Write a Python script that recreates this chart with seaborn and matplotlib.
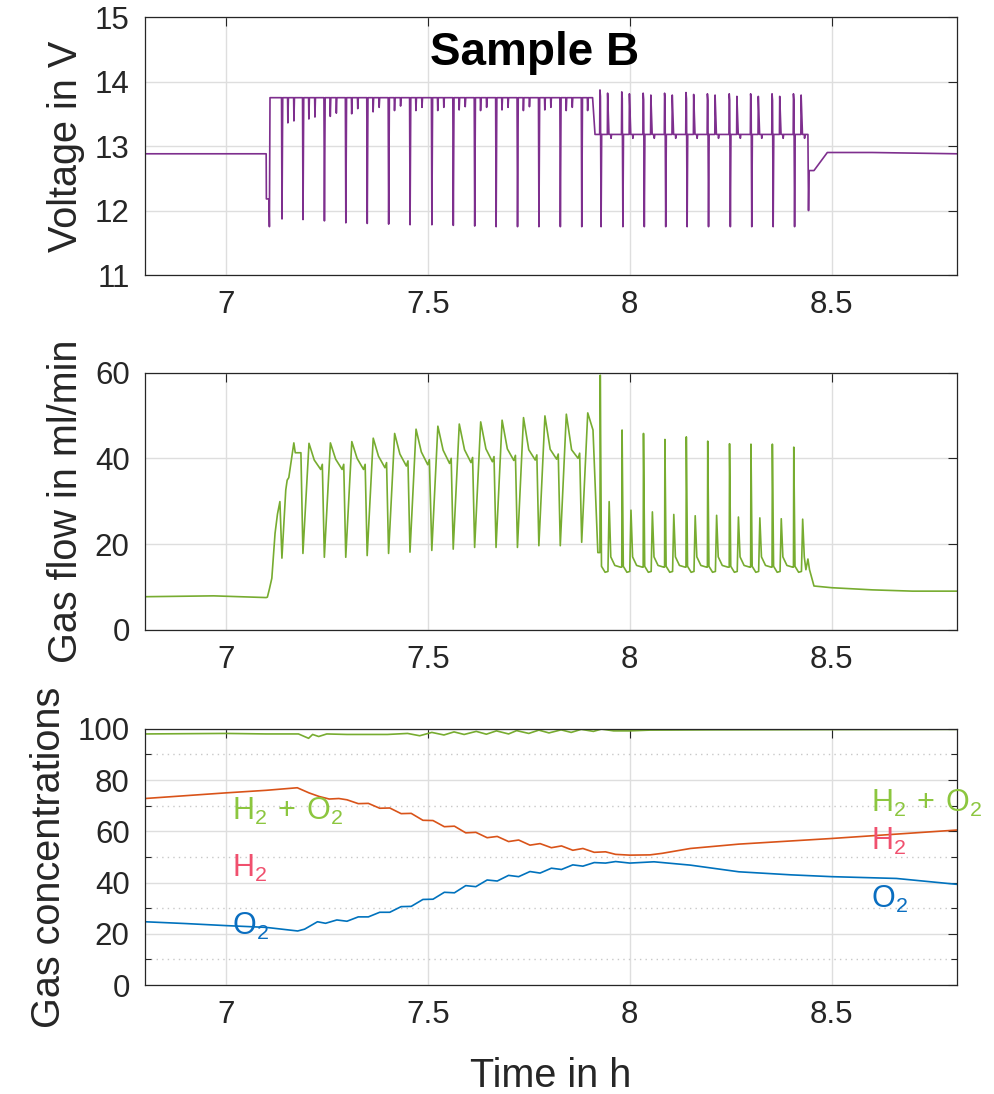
import matplotlib
matplotlib.use("Agg")
import matplotlib.pyplot as plt
import seaborn as sns
from matplotlib.ticker import MultipleLocator, FixedLocator

# ---------------- data ----------------
# time axis (h)
x_ticks = [7, 7.5, 8, 8.5]
x_tick_labels = ["7", "7.5", "8", "8.5"]

# stack voltage (V)
v_idle_before = [12.88, 12.88]
v_idle_times = [6.80, 7.100]
v_start_t = [7.1005, 7.107, 7.108, 7.1095]
v_start_v = [12.18, 12.18, 11.75, 13.75]
v_level_1 = 13.75
v_level_2 = 13.18
# pulse instants shared by voltage and gas-flow traces
pulse_t_1 = [7.138, 7.190, 7.243, 7.296, 7.349, 7.402, 7.455, 7.509,
             7.562, 7.615, 7.668, 7.721, 7.774, 7.827, 7.880]
pulse_t_2 = [7.927, 7.981, 8.034, 8.087, 8.140, 8.193, 8.247, 8.300,
             8.353, 8.406]
v_min_1 = [11.87, 11.86, 11.84, 11.81, 11.80, 11.79, 11.78, 11.78,
           11.77, 11.76, 11.75, 11.75, 11.75, 11.75, 11.75]
v_dip_a = [13.36, 13.42, 13.46, 13.50, 13.53, 13.55, 13.55, 13.55,
           13.56, 13.55, 13.56, 13.55, 13.56, 13.55, 13.55]
v_dip_b = [13.39, 13.45, 13.51, 13.58, 13.60, 13.62, 13.60, 13.60,
           13.61, 13.60, 13.60, 13.61, 13.60, 13.60, 13.60]
v_step_t = [7.908, 7.914]
v_min_2 = [11.75, 11.75, 11.75, 11.75, 11.75, 11.75, 11.75, 11.75, 11.75, 11.75]
v_spike_2 = [13.87, 13.84, 13.82, 13.82, 13.83, 13.81, 13.81, 13.81, 13.81, 13.81]
v_spike_2b = [13.82, 13.81, 13.79, 13.79, 13.80, 13.79, 13.77, 13.77, 13.77, 13.79]
v_end_t = [8.441, 8.4425, 8.444, 8.456, 8.489, 8.60, 8.81]
v_end_v = [13.18, 12.00, 12.62, 12.62, 12.90, 12.90, 12.88]

# gas flow (ml/min)
g_pre_t = [6.80, 6.97, 7.100]
g_pre_v = [7.7, 7.9, 7.5]
g_ramp_t = [7.103, 7.108, 7.114, 7.122, 7.128, 7.134, 7.139, 7.1485,
            7.152, 7.156, 7.1685, 7.172, 7.186]
g_ramp_v = [7.6, 9.5, 12.0, 22.5, 27.0, 29.9, 16.7, 32.6,
            34.9, 35.5, 43.6, 41.3, 41.3]
g_dip_1 = [17.8, 16.9, 16.9, 17.3, 17.8, 18.1, 18.5, 18.8, 19.2, 19.2,
           19.2, 19.6, 19.6, 20.4]
g_peak_1 = [43.5, 43.6, 43.9, 44.7, 45.8, 46.8, 47.5, 48.0, 48.5, 48.9,
            49.5, 49.9, 50.3, 50.6]
g_mid_1 = [39.6, 39.8, 40.0, 40.5, 41.0, 41.5, 41.9, 42.0, 42.2, 42.2,
           42.0, 42.1, 42.0, 46.6]
g_tail_1 = [37.4, 37.4, 37.4, 37.8, 38.2, 38.5, 38.8, 39.0, 39.2, 39.5,
            39.6, 39.8, 40.0, 40.0]
g_switch_t = [7.921]
g_switch_v = [18.0]
g_spike_2 = [59.4, 46.6, 45.8, 44.4, 45.0, 44.0, 43.4, 43.3, 43.3, 42.6]
g_second_2 = [29.9, 27.9, 27.5, 26.9, 26.6, 26.7, 26.3, 26.1, 25.9, 25.8]
g_end_t = [8.436, 8.441, 8.445, 8.456, 8.50, 8.60, 8.70, 8.81]
g_end_v = [14.0, 16.5, 14.0, 10.2, 9.8, 9.3, 9.0, 9.0]

# gas concentrations (%)
o2_t = [6.80, 6.90, 7.00, 7.10, 7.178, 7.195, 7.227, 7.247, 7.275, 7.300,
        7.328, 7.353, 7.381, 7.406, 7.434, 7.459, 7.488, 7.513, 7.541, 7.566,
        7.594, 7.619, 7.647, 7.672, 7.700, 7.725, 7.753, 7.778, 7.806, 7.831,
        7.859, 7.884, 7.912, 7.940, 7.965, 8.00, 8.06, 8.15, 8.27, 8.40,
        8.50, 8.66, 8.81]
o2_v = [24.7, 24.0, 23.2, 22.5, 21.1, 21.8, 24.7, 24.1, 25.4, 24.9,
        26.6, 26.6, 28.4, 28.4, 30.6, 30.7, 33.4, 33.5, 36.2, 36.0,
        38.8, 38.4, 41.0, 40.6, 42.8, 42.3, 44.3, 43.7, 45.6, 45.1,
        46.9, 46.4, 47.8, 47.6, 48.2, 47.6, 48.1, 46.8, 44.2, 43.0,
        42.3, 41.6, 39.3]
h2_t = [6.80, 7.00, 7.10, 7.177, 7.206, 7.231, 7.256, 7.280, 7.300, 7.328,
        7.353, 7.381, 7.406, 7.434, 7.459, 7.488, 7.513, 7.541, 7.566, 7.594,
        7.619, 7.647, 7.672, 7.700, 7.725, 7.753, 7.778, 7.806, 7.831, 7.859,
        7.884, 7.912, 7.940, 7.965, 8.00, 8.05, 8.08, 8.15, 8.27, 8.50, 8.81]
h2_v = [72.8, 75.0, 76.0, 77.0, 75.0, 73.6, 72.6, 72.8, 72.3, 70.8,
        70.9, 69.0, 69.1, 66.9, 67.0, 64.3, 64.2, 61.8, 62.0, 59.4,
        59.6, 57.5, 58.0, 56.0, 56.6, 54.6, 55.2, 53.6, 54.3, 52.6,
        53.3, 51.8, 52.0, 51.0, 50.7, 50.8, 51.4, 53.3, 55.0, 57.2, 60.5]
sum_t = [6.80, 7.00, 7.10, 7.18, 7.205, 7.215, 7.23, 7.25, 7.30, 7.40,
         7.45, 7.48, 7.51, 7.54, 7.565, 7.59, 7.62, 7.645, 7.67, 7.70,
         7.72, 7.75, 7.775, 7.80, 7.83, 7.855, 7.88, 7.91, 7.93, 7.96,
         8.00, 8.05, 8.20, 8.50, 8.81]
sum_v = [98.0, 98.2, 98.0, 98.0, 96.3, 97.8, 97.0, 98.0, 97.8, 97.8,
         98.2, 97.3, 98.6, 97.6, 98.8, 97.8, 99.0, 97.9, 99.2, 98.0,
         99.3, 98.2, 99.5, 98.4, 99.6, 98.6, 99.8, 99.0, 99.9, 99.2,
         99.2, 99.5, 99.6, 99.7, 99.8]

# ---------------- assemble the stepped traces ----------------
def voltage_trace():
    t = list(v_idle_times) + list(v_start_t)
    v = list(v_idle_before) + list(v_start_v)
    for i, p in enumerate(pulse_t_1):
        t += [p, p + 0.0012, p + 0.003]
        v += [v_level_1, v_min_1[i], v_level_1]
        for off, d in ((0.015, v_dip_a[i]), (0.030, v_dip_b[i])):
            if p + off + 0.002 < v_step_t[0]:
                t += [p + off, p + off + 0.0007, p + off + 0.002]
                v += [v_level_1, d, v_level_1]
    t += v_step_t
    v += [v_level_1, v_level_2]
    for j, p in enumerate(pulse_t_2):
        t += [p - 0.0015, p - 0.0008, p + 0.0004, p + 0.002, p + 0.0035]
        v += [v_level_2, v_spike_2[j], v_spike_2[j] - 0.1, v_min_2[j], v_level_2]
        t += [p + 0.0175, p + 0.0182, p + 0.0215, p + 0.026, p + 0.0267, p + 0.028]
        v += [v_level_2, v_spike_2b[j], v_level_2, v_level_2, 13.12, v_level_2]
    t += v_end_t
    v += v_end_v
    return t, v


def gasflow_trace():
    t = list(g_pre_t) + list(g_ramp_t)
    v = list(g_pre_v) + list(g_ramp_v)
    for i, p in enumerate(pulse_t_1[1:]):
        pts = [(p + 0.001, g_dip_1[i]), (p + 0.016, g_peak_1[i]),
               (p + 0.029, g_mid_1[i]), (p + 0.045, g_tail_1[i]),
               (p + 0.049, g_tail_1[i] + 1.2)]
        for tt, vv in pts:
            if tt < g_switch_t[0] - 0.003:
                t.append(tt)
                v.append(vv)
    t += g_switch_t
    v += g_switch_v
    for j, p in enumerate(pulse_t_2):
        pts = [(p - 0.0008, v[-1]), (p, g_spike_2[j]), (p + 0.003, 14.8),
               (p + 0.012, 13.4), (p + 0.019, 13.6), (p + 0.022, g_second_2[j]),
               (p + 0.026, 17.0), (p + 0.036, 15.0), (p + 0.050, 14.6)]
        for tt, vv in pts:
            if tt < g_end_t[0] - 0.002:
                t.append(tt)
                v.append(vv)
    t += g_end_t
    v += g_end_v
    return t, v


volt_t, volt_v = voltage_trace()
flow_t, flow_v = gasflow_trace()

# ---------------- styling ----------------
sns.set_theme(style="white")
plt.rcParams["font.family"] = ["Liberation Sans", "DejaVu Sans"]
plt.rcParams["mathtext.default"] = "regular"

AX_COL = "#262626"
GRID_COL = "#dedede"
C_VOLT = "#7E2F8E"
C_FLOW = "#77AC30"
C_H2 = "#D95319"
C_O2 = "#0072BD"
LW = 1.2

fig = plt.figure(figsize=(9.95, 10.94), dpi=100)
left, width = 0.1457, 0.8161
ax1 = fig.add_axes([left, 0.7486, width, 0.2358])
ax2 = fig.add_axes([left, 0.4244, width, 0.2350])
ax3 = fig.add_axes([left, 0.0996, width, 0.2342])

for ax in (ax1, ax2, ax3):
    ax.set_xlim(6.8, 8.81)
    ax.xaxis.set_major_locator(FixedLocator(x_ticks))
    ax.set_xticklabels(x_tick_labels)
    ax.tick_params(which="major", direction="in", length=6.5, width=0.8,
                   top=True, right=True, labelsize=22.5, pad=11,
                   color=AX_COL, labelcolor=AX_COL)
    ax.grid(True, which="major", color=GRID_COL, linewidth=1.0)
    ax.set_axisbelow(True)
    for sp in ax.spines.values():
        sp.set_color(AX_COL)
        sp.set_linewidth(0.9)
    ax.set_facecolor("white")

# voltage
sns.lineplot(x=volt_t, y=volt_v, ax=ax1, color=C_VOLT, linewidth=LW,
             estimator=None, sort=False)
ax1.set_ylim(11, 15)
ax1.yaxis.set_major_locator(MultipleLocator(1))
ax1.set_ylabel("Voltage in V", fontsize=28.5, color=AX_COL, labelpad=7)
fig.text(0.5377, 0.9406, "Sample B", fontsize=33, fontweight="bold",
         ha="center", va="baseline", color="black")

# gas flow
sns.lineplot(x=flow_t, y=flow_v, ax=ax2, color=C_FLOW, linewidth=LW,
             estimator=None, sort=False)
ax2.set_ylim(0, 60)
ax2.yaxis.set_major_locator(MultipleLocator(20))
ax2.set_ylabel("Gas flow in ml/min", fontsize=28.5, color=AX_COL, labelpad=7)

# gas concentrations
sns.lineplot(x=sum_t, y=sum_v, ax=ax3, color=C_FLOW, linewidth=LW,
             estimator=None, sort=False)
sns.lineplot(x=h2_t, y=h2_v, ax=ax3, color=C_H2, linewidth=LW,
             estimator=None, sort=False)
sns.lineplot(x=o2_t, y=o2_v, ax=ax3, color=C_O2, linewidth=LW,
             estimator=None, sort=False)
ax3.set_ylim(0, 100)
ax3.yaxis.set_major_locator(MultipleLocator(20))
ax3.yaxis.set_minor_locator(MultipleLocator(10))
ax3.tick_params(which="minor", axis="y", direction="in", length=4, width=0.8,
                left=True, right=True, color=AX_COL)
ax3.grid(True, which="minor", axis="y", color="#c8c8c8", linestyle=(0, (1, 3)),
         linewidth=1.0)
ax3.set_ylabel("Gas concentrations", fontsize=28.5, color=AX_COL, labelpad=7)
ax3.set_xlabel("Time in h", fontsize=28.5, color=AX_COL, labelpad=19)
for ax in (ax1, ax2):
    ax.set_xlabel("")

C_LBL_SUM = "#8CC63F"
C_LBL_H2 = "#F0506E"
C_LBL_O2 = "#0A6EC0"
labels = [
    (7.015, 67.9, r"$\mathregular{H_2\,+\,O_2}$", C_LBL_SUM),
    (7.015, 45.5, r"$\mathregular{H_2}$", C_LBL_H2),
    (7.015, 22.7, r"$\mathregular{O_2}$", C_LBL_O2),
    (8.597, 71.0, r"$\mathregular{H_2\,+\,O_2}$", C_LBL_SUM),
    (8.597, 55.9, r"$\mathregular{H_2}$", C_LBL_H2),
    (8.597, 33.4, r"$\mathregular{O_2}$", C_LBL_O2),
]
for x, y, s, c in labels:
    ax3.text(x, y, s, color=c, fontsize=22, ha="left", va="center",
             clip_on=False)

fig.savefig("out.png", dpi=100, facecolor="white")
